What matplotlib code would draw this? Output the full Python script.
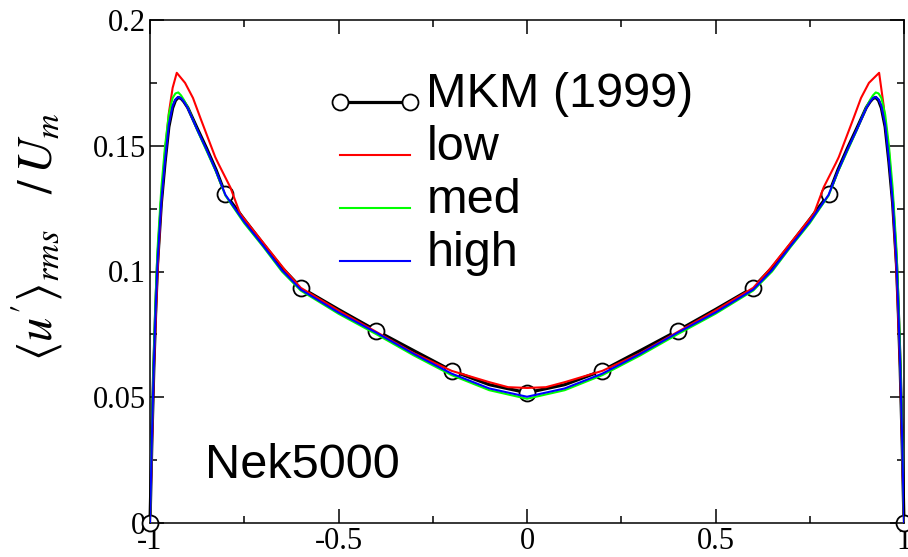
import numpy as np
import matplotlib
matplotlib.use("Agg")
import matplotlib.pyplot as plt
from matplotlib.ticker import MultipleLocator

plt.rcParams["font.family"] = "Liberation Sans"
plt.rcParams["mathtext.fontset"] = "stix"

# channel coordinate (shared by MKM / med / high)
y_pos = [-1.0, -0.995, -0.99, -0.985, -0.98, -0.97, -0.96, -0.95, -0.94, -0.9325,
         -0.925, -0.9175, -0.91, -0.9, -0.875, -0.85, -0.825, -0.8, -0.75, -0.7,
         -0.65, -0.6, -0.5, -0.4, -0.3, -0.2, -0.1, 0.0,
         0.1, 0.2, 0.3, 0.4, 0.5, 0.6, 0.65, 0.7, 0.75, 0.8, 0.825, 0.85, 0.875,
         0.9, 0.91, 0.9175, 0.925, 0.9325, 0.94, 0.95, 0.96, 0.97, 0.98, 0.985,
         0.99, 0.995, 1.0]

mkm = [0.0, 0.033, 0.061, 0.084, 0.103, 0.127, 0.1435, 0.1575, 0.1650, 0.1680,
       0.1692, 0.1688, 0.1675, 0.1652, 0.1570, 0.1490, 0.1405, 0.1307, 0.1207, 0.1110,
       0.1015, 0.0936, 0.0849, 0.0765, 0.0685, 0.0606, 0.0550, 0.0518,
       0.0550, 0.0606, 0.0685, 0.0765, 0.0849, 0.0936, 0.1015, 0.1110, 0.1207, 0.1307,
       0.1405, 0.1490, 0.1570, 0.1652, 0.1675, 0.1688, 0.1692, 0.1680, 0.1650, 0.1575,
       0.1435, 0.127, 0.103, 0.084, 0.061, 0.033, 0.0]

high = [0.0, 0.034, 0.062, 0.085, 0.104, 0.128, 0.1445, 0.1585, 0.1658, 0.1684,
        0.1694, 0.1689, 0.1675, 0.1650, 0.1565, 0.1485, 0.1400, 0.1305, 0.1197, 0.1103,
        0.1005, 0.0928, 0.0837, 0.0757, 0.0672, 0.0594, 0.0535, 0.0502,
        0.0535, 0.0594, 0.0672, 0.0757, 0.0837, 0.0928, 0.1005, 0.1103, 0.1197, 0.1305,
        0.1400, 0.1485, 0.1565, 0.1650, 0.1675, 0.1689, 0.1694, 0.1684, 0.1658, 0.1585,
        0.1445, 0.128, 0.104, 0.085, 0.062, 0.034, 0.0]

med = [0.0, 0.036, 0.066, 0.090, 0.109, 0.133, 0.150, 0.1625, 0.1690, 0.1708,
       0.1712, 0.1700, 0.1682, 0.1653, 0.1563, 0.1480, 0.1397, 0.1302, 0.1192, 0.1099,
       0.1000, 0.0924, 0.0832, 0.0751, 0.0666, 0.0588, 0.0528, 0.0494,
       0.0528, 0.0588, 0.0666, 0.0751, 0.0832, 0.0924, 0.1000, 0.1099, 0.1192, 0.1302,
       0.1397, 0.1480, 0.1563, 0.1653, 0.1682, 0.1700, 0.1712, 0.1708, 0.1690, 0.1625,
       0.150, 0.133, 0.109, 0.090, 0.066, 0.036, 0.0]

# coarse grid -> own coordinates
y_low = [-1.0, -0.99, -0.98, -0.97, -0.96, -0.95, -0.94, -0.929, -0.907, -0.886,
         -0.865, -0.827, -0.819, -0.787, -0.761, -0.7, -0.641, -0.6, -0.5, -0.4,
         -0.3, -0.2, -0.1, -0.05, 0.0,
         0.05, 0.1, 0.2, 0.3, 0.4, 0.5, 0.6, 0.641, 0.7, 0.761, 0.787, 0.819, 0.827,
         0.865, 0.886, 0.907, 0.934, 0.946, 0.95, 0.96, 0.97, 0.98, 0.99, 1.0]
low = [0.0, 0.060, 0.100, 0.128, 0.148, 0.163, 0.173, 0.179, 0.175, 0.169,
       0.1605, 0.1455, 0.143, 0.1335, 0.123, 0.1115, 0.1004, 0.0935, 0.0845, 0.0760,
       0.0675, 0.0605, 0.0560, 0.0540, 0.0537,
       0.0540, 0.0560, 0.0605, 0.0675, 0.0760, 0.0845, 0.0935, 0.1004, 0.1115, 0.123,
       0.1335, 0.143, 0.1455, 0.1605, 0.169, 0.175, 0.179, 0.166, 0.160, 0.148,
       0.128, 0.100, 0.060, 0.0]

mkm_marks = [-1.0, -0.8, -0.6, -0.4, -0.2, 0.0, 0.2, 0.4, 0.6, 0.8, 1.0]

fig = plt.figure(figsize=(9.08, 5.57), dpi=100)
ax = fig.add_axes([150/908, 34/557, 754/908, 503/557])

every = [i for i, v in enumerate(y_pos) if np.isclose(v, mkm_marks).any()]
ax.plot(y_pos, mkm, color="black", lw=2.3, marker="o", markevery=every,
        ms=11.5, mfc="white", mec="black", mew=1.3, clip_on=False,
        label="MKM (1999)", zorder=2)
ax.plot(y_low, low, color="red", lw=1.5, label="low", zorder=3)
ax.plot(y_pos, med, color="#00ff00", lw=1.5, label="med", zorder=4)
ax.plot(y_pos, high, color="blue", lw=1.5, label="high", zorder=5)

ax.set_xlim(-1, 1)
ax.set_ylim(0, 0.2)
ax.xaxis.set_minor_locator(MultipleLocator(0.25))
ax.yaxis.set_minor_locator(MultipleLocator(0.025))
ax.set_xticks([-1, -0.5, 0, 0.5, 1])
ax.set_xticklabels(["-1", "-0.5", "0", "0.5", "1"])
ax.set_yticks([0, 0.05, 0.1, 0.15, 0.2])
ax.set_yticklabels(["0", "0.05", "0.1", "0.15", "0.2"])
ax.tick_params(which="both", direction="in", top=True, right=True, width=1.1,
               labelsize=22, pad=3)
ax.tick_params(which="major", length=10)
ax.tick_params(which="minor", length=5)
for lab in ax.get_xticklabels() + ax.get_yticklabels():
    lab.set_family("Liberation Serif")
for s in ax.spines.values():
    s.set_linewidth(1.1)

fig.text(37/908, 1 - 237/557, r"$\langle u'\rangle_{rms}\ \ \ /\,U_m$",
         rotation=90, ha="center", va="center", fontsize=35)

ax.text(-0.854, 0.018, "Nek5000", fontsize=35, ha="left", va="baseline")

# grace-style legend: sample line below the text centre, rows 53 px apart
row0, dy = 0.837, 53 / 503
handles, labels = ax.get_legend_handles_labels()
for k, (h, lab) in enumerate(zip(handles, labels)):
    yy = row0 - k * dy
    ax.plot([0.252, 0.345], [yy, yy], transform=ax.transAxes, clip_on=False,
            color=h.get_color(), lw=h.get_linewidth(), marker=h.get_marker(),
            ms=h.get_markersize(), mfc=h.get_markerfacecolor(),
            mec=h.get_markeredgecolor(), mew=h.get_markeredgewidth(), zorder=6)
    ax.text(0.3667, yy - 0.0105, lab, transform=ax.transAxes, fontsize=35,
            ha="left", va="baseline")

fig.savefig("out.png", dpi=100)
